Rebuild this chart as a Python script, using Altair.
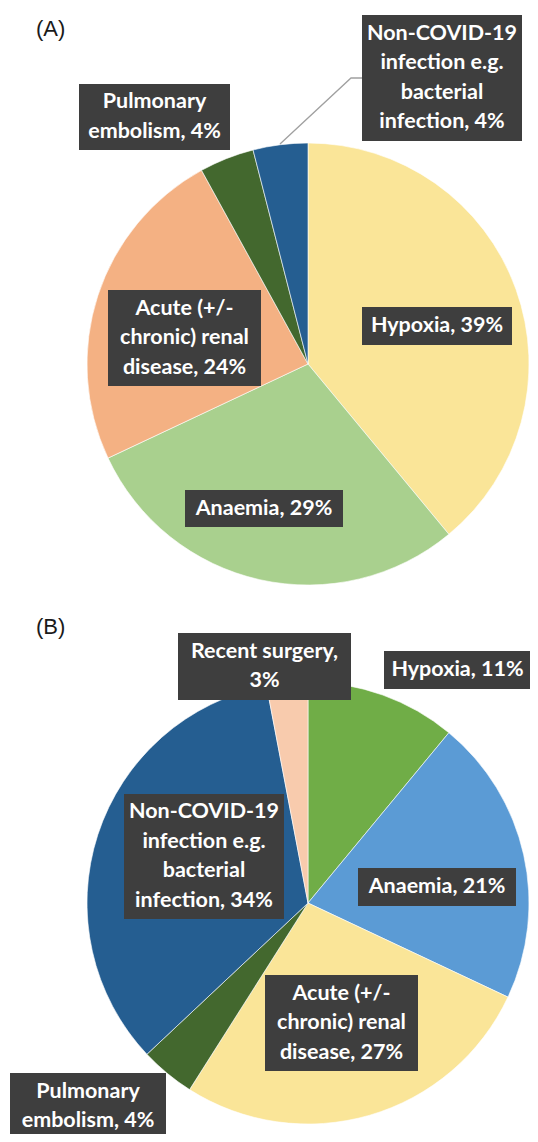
import textwrap
import altair as alt
import pandas as pd

# ---------------- data ----------------
cats_a = ["Hypoxia", "Anaemia", "Acute (+/- chronic) renal disease",
          "Pulmonary embolism", "Non-COVID-19 infection e.g. bacterial infection"]
vals_a = [39, 29, 24, 4, 4]

cats_b = ["Hypoxia", "Anaemia", "Acute (+/- chronic) renal disease",
          "Pulmonary embolism", "Non-COVID-19 infection e.g. bacterial infection",
          "Recent surgery"]
vals_b = [11, 21, 27, 4, 34, 3]

panel_titles = ["(A)", "(B)"]

# ---------------- styles / layout ----------------
colors_a = ["#FAE598", "#A9D08E", "#F4B183", "#43682E", "#255E91"]
colors_b = ["#70AD47", "#5B9BD5", "#FAE598", "#43682E", "#255E91", "#F8CBAD"]

MARGIN = 8
W, H = 538 - 2 * MARGIN, 1142 - 2 * MARGIN
R = 221
LINE_H = 29.5
center_a = (308, 364)
center_b = (308, 903)

# label boxes (page coords): x0, x1, y0, y1 in category order
boxes_a = [(362, 512, 307, 345), (185, 343, 490, 527), (108, 261, 290, 386),
           (79, 230, 84, 150), (362, 522, 15, 141)]
boxes_b = [(384, 531, 651, 689), (358, 516, 868, 906), (265, 418, 975, 1071),
           (10, 166, 1073, 1140), (124, 284, 794, 919), (178, 351, 633, 700)]

leader_x = [362, 351, 280]
leader_y = [78, 78, 144]

xs = alt.Scale(domain=[MARGIN, MARGIN + W], nice=False, zero=False)
ys = alt.Scale(domain=[MARGIN, MARGIN + H], nice=False, zero=False, reverse=True)


def pie(cats, vals, colors, center):
    df = pd.DataFrame({"cat": cats, "val": vals, "idx": list(range(len(cats)))})
    return alt.Chart(df).mark_arc(radius=R, stroke="white", strokeWidth=0.6).encode(
        theta=alt.Theta("val:Q", stack=True),
        order=alt.Order("idx:Q"),
        color=alt.Color("cat:N", scale=alt.Scale(domain=cats, range=colors), legend=None),
        x=alt.datum(center[0], scale=xs, axis=None),
        y=alt.datum(center[1], scale=ys, axis=None),
    )


def label_df(cats, vals, boxes):
    rows = []
    for c, v, b in zip(cats, vals, boxes):
        txt = textwrap.fill(f"{c}, {v}%", 15)
        n = txt.count("\n") + 1
        cy = (b[2] + b[3]) / 2
        rows.append({
            "txt": txt,
            "x0": b[0], "x1": b[1], "y0": b[2], "y1": b[3],
            "cx": (b[0] + b[1]) / 2, "ty": cy - (n - 1) / 2 * LINE_H,
        })
    return pd.DataFrame(rows)


labels = pd.concat([label_df(cats_a, vals_a, boxes_a),
                    label_df(cats_b, vals_b, boxes_b)], ignore_index=True)

boxes = alt.Chart(labels).mark_rect(color="#3E3E3E").encode(
    x=alt.X("x0:Q", scale=xs, axis=None), x2="x1:Q",
    y=alt.Y("y0:Q", scale=ys, axis=None), y2="y1:Q",
)

texts = alt.Chart(labels).mark_text(
    font="Lato", fontWeight="bold", fontSize=21.5, color="white",
    lineBreak="\n", lineHeight=LINE_H, align="center", baseline="middle",
).encode(
    x=alt.X("cx:Q", scale=xs, axis=None),
    y=alt.Y("ty:Q", scale=ys, axis=None),
    text="txt:N",
)

leader = alt.Chart(pd.DataFrame({"lx": leader_x, "ly": leader_y,
                                 "o": list(range(len(leader_x)))})).mark_line(
    color="#A0A0A0", strokeWidth=1.3).encode(
    x=alt.X("lx:Q", scale=xs, axis=None),
    y=alt.Y("ly:Q", scale=ys, axis=None),
    order="o:Q",
)

titles = alt.Chart(pd.DataFrame({"t": panel_titles, "tx": [36, 36], "ty": [29, 627]})).mark_text(
    font="Liberation Sans", fontSize=22, color="#1a1a1a", align="left", baseline="middle",
).encode(
    x=alt.X("tx:Q", scale=xs, axis=None),
    y=alt.Y("ty:Q", scale=ys, axis=None),
    text="t:N",
)

chart = alt.layer(
    pie(cats_a, vals_a, colors_a, center_a),
    pie(cats_b, vals_b, colors_b, center_b),
    leader, boxes, texts, titles,
).resolve_scale(color="independent", theta="independent").properties(
    width=W, height=H, autosize=alt.AutoSizeParams(type="none"), padding=0,
).configure_view(stroke=None)

chart.save("out.html", embed_options={"renderer": "svg", "actions": False})
